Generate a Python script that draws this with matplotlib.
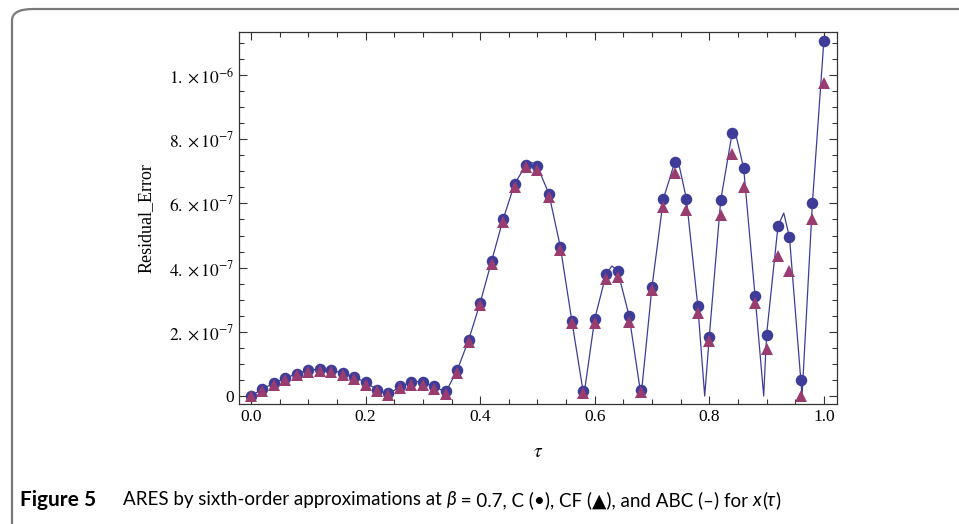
import numpy as np
import matplotlib
matplotlib.use("Agg")
import matplotlib.pyplot as plt
from matplotlib.patches import FancyBboxPatch
from matplotlib.ticker import FixedLocator, FixedFormatter, MultipleLocator

# data (units of 1e-7)
tau = [0.00, 0.02, 0.04, 0.06, 0.08, 0.10, 0.12, 0.14, 0.16, 0.18,
       0.20, 0.22, 0.24, 0.26, 0.28, 0.30, 0.32, 0.34, 0.36, 0.38,
       0.40, 0.42, 0.44, 0.46, 0.48, 0.50, 0.52, 0.54, 0.56, 0.58,
       0.60, 0.62, 0.64, 0.66, 0.68, 0.70, 0.72, 0.74, 0.76, 0.78,
       0.80, 0.82, 0.84, 0.86, 0.88, 0.90, 0.92, 0.94, 0.96, 0.98, 1.00]
err_c = [0.00, 0.22, 0.40, 0.55, 0.70, 0.80, 0.84, 0.80, 0.72, 0.60,
         0.42, 0.20, 0.08, 0.30, 0.42, 0.42, 0.30, 0.15, 0.80, 1.75,
         2.90, 4.20, 5.50, 6.60, 7.20, 7.15, 6.30, 4.65, 2.35, 0.15,
         2.40, 3.80, 3.90, 2.50, 0.20, 3.40, 6.15, 7.30, 6.15, 2.80,
         1.85, 6.10, 8.20, 7.10, 3.10, 1.90, 5.30, 4.95, 0.50, 6.00, 11.06]
err_cf = [0.00, 0.17, 0.35, 0.50, 0.64, 0.74, 0.77, 0.74, 0.65, 0.53,
          0.35, 0.14, 0.02, 0.24, 0.35, 0.35, 0.23, 0.07, 0.72, 1.67,
          2.82, 4.12, 5.42, 6.50, 7.12, 7.05, 6.20, 4.55, 2.28, 0.08,
          2.28, 3.65, 3.70, 2.30, 0.12, 3.30, 5.90, 6.95, 5.80, 2.60,
          1.70, 5.65, 7.55, 6.50, 2.90, 1.45, 4.35, 3.90, 0.00, 5.50, 9.75]

# ABC curve
tau_abc = [0.00, 0.02, 0.04, 0.06, 0.08, 0.10, 0.12, 0.14, 0.16, 0.18,
           0.20, 0.22, 0.24, 0.26, 0.28, 0.29, 0.30, 0.32, 0.34, 0.36, 0.38,
           0.40, 0.42, 0.44, 0.46, 0.48, 0.49, 0.50, 0.52, 0.54, 0.56, 0.581,
           0.60, 0.62, 0.63, 0.64, 0.66, 0.681, 0.70, 0.72, 0.74, 0.745, 0.76, 0.78,
           0.792, 0.80, 0.82, 0.84, 0.845, 0.86, 0.88, 0.895, 0.90, 0.92, 0.93,
           0.94, 0.962, 0.98, 1.00]
err_abc = [0.00, 0.22, 0.40, 0.55, 0.70, 0.80, 0.84, 0.80, 0.72, 0.60,
           0.42, 0.20, 0.05, 0.30, 0.42, 0.45, 0.42, 0.30, 0.12, 0.80, 1.75,
           2.90, 4.20, 5.50, 6.60, 7.20, 7.28, 7.15, 6.30, 4.65, 2.35, 0.00,
           2.40, 3.80, 4.05, 3.90, 2.50, 0.00, 3.40, 6.15, 7.30, 7.38, 6.15, 2.80,
           0.00, 1.85, 6.10, 8.20, 8.25, 7.10, 3.10, 0.00, 1.90, 5.30, 5.70,
           4.95, 0.00, 6.00, 11.06]

ytick_vals = [0, 2, 4, 6, 8, 10]
ytick_labels = ["0", r"$2.\times10^{-7}$", r"$4.\times10^{-7}$", r"$6.\times10^{-7}$",
                r"$8.\times10^{-7}$", r"$1.\times10^{-6}$"]
xtick_vals = [0.0, 0.2, 0.4, 0.6, 0.8, 1.0]
xtick_labels = ["0.0", "0.2", "0.4", "0.6", "0.8", "1.0"]

# caption pieces: (text, italic?)
caption = [("ARES by sixth-order approximations at ", False), ("β", True),
           (" = 0.7, C (•), CF (▲), and ABC (–) for ", False), ("x", True),
           ("(", False), ("τ", True), (")", False)]

plt.rcParams["font.family"] = "serif"
plt.rcParams["font.serif"] = ["Liberation Serif"]
plt.rcParams["mathtext.fontset"] = "stix"

blue = "#3d3d99"
purple = "#993d71"

fig = plt.figure(figsize=(9.59, 5.24), dpi=100)
ax = fig.add_axes([0.2492, 0.2290, 0.6236, 0.7099])

ax.plot(tau_abc, err_abc, color=blue, lw=0.9, zorder=2)
ax.plot(tau, err_c, "o", color=blue, ms=8.3, mew=0, zorder=3)
ax.plot(tau, err_cf, "^", color=purple, ms=8.8, mew=0, zorder=4)

ax.set_xlim(-0.021, 1.023)
ax.set_ylim(-0.25, 11.34)

ax.xaxis.set_major_locator(FixedLocator(xtick_vals))
ax.xaxis.set_major_formatter(FixedFormatter(xtick_labels))
ax.xaxis.set_minor_locator(MultipleLocator(0.05))
ax.yaxis.set_major_locator(FixedLocator(ytick_vals))
ax.yaxis.set_major_formatter(FixedFormatter(ytick_labels))
ax.yaxis.set_minor_locator(MultipleLocator(0.5))

ax.tick_params(which="both", direction="in", top=True, right=True,
               labelsize=12.5, color="#333333", width=0.8)
ax.tick_params(which="major", length=6)
ax.tick_params(which="minor", length=3.5)
for s in ax.spines.values():
    s.set_color("#333333")
    s.set_linewidth(0.9)

ax.set_xlabel(r"$\tau$", fontsize=14, labelpad=14)
ax.set_ylabel("Residual_Error", fontsize=13, labelpad=10)

# rounded frame around the figure (only left and top edges visible)
W, H = 959, 524
box = FancyBboxPatch((12 / W, -0.2), 1.2, 1 - 9 / H + 0.2,
                     boxstyle="round,pad=0,rounding_size=0.022",
                     transform=fig.transFigure, fill=False,
                     edgecolor="#7a7a7a", lw=1.6, clip_on=False)
fig.patches.append(box)

cap_font = ["Lato", "DejaVu Sans"]
cy = 1 - 500 / H
fig.text(20 / W, cy, "Figure 5", family=cap_font, weight="bold",
         fontsize=15, va="center", ha="left")

renderer = fig.canvas.get_renderer()
x = 123 / W
for txt, ital in caption:
    t = fig.text(x, cy, txt, family=cap_font, fontsize=13.5, va="center", ha="left",
                 style="italic" if ital else "normal")
    bb = t.get_window_extent(renderer)
    x = bb.x1 / W

fig.savefig("out.png", dpi=100)
